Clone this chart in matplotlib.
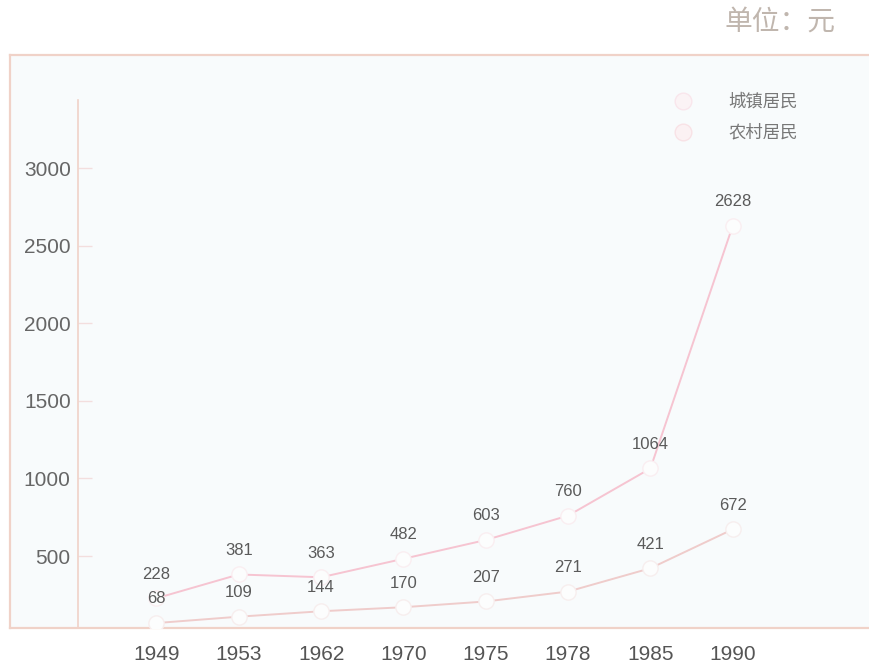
import matplotlib
matplotlib.use("Agg")
import matplotlib.pyplot as plt
from matplotlib.lines import Line2D

plt.rcParams['font.family'] = ['Liberation Sans', 'Noto Sans CJK SC', 'DejaVu Sans']

# data
years = ["1949", "1953", "1962", "1970", "1975", "1978", "1985", "1990"]
urban = [228, 381, 363, 482, 603, 760, 1064, 2628]
rural = [68, 109, 144, 170, 207, 271, 421, 672]
yticks = [500, 1000, 1500, 2000, 2500, 3000]
series_names = ["城镇居民", "农村居民"]

bg = "#f8fbfc"
border = "#f0d2c8"
urban_c = "#f6c4d1"
rural_c = "#efcccb"
txt = "#666666"

W, H = 869, 670
fig = plt.figure(figsize=(W / 100, H / 100), dpi=100)
fig.patch.set_facecolor("#ffffff")

# axes box: left border at x=10px, top at y=55px, bottom at y=628px
ax = fig.add_axes([10 / W, (H - 628) / H, (W - 10) / W + 0.01, (628 - 55) / H])
ax.set_facecolor(bg)

x = list(range(len(years)))
# 81.5 px per category, first category at x=155px
px_per = 81.5
xmin = -(155 - 10) / px_per
xmax = xmin + (W - 10) / px_per
ax.set_xlim(xmin, xmax)

# 0 at y=633.6px, 500 per 77.6px
ppv = 77.6 / 500
ylo = (633.6 - 628) / ppv
yhi = ylo + (628 - 55) / ppv
ax.set_ylim(ylo, yhi)

ax.plot(x, urban, color=urban_c, lw=1.4, marker="o", ms=11,
        mfc="#fcfdfd", mec="#faeef1", mew=1.0, zorder=3)
ax.plot(x, rural, color=rural_c, lw=1.4, marker="o", ms=11,
        mfc="#fcfdfd", mec="#f7eeee", mew=1.0, zorder=3)

for xi, v in zip(x, urban):
    ax.annotate(str(v), (xi, v), xytext=(0, 12), textcoords="offset points",
                ha="center", va="bottom", fontsize=12, color="#5a5a5a")
for xi, v in zip(x, rural):
    ax.annotate(str(v), (xi, v), xytext=(0, 12), textcoords="offset points",
                ha="center", va="bottom", fontsize=12, color="#5a5a5a")

# spines: y axis line at x=77px
yaxis_x = xmin + (77 - 10) / px_per
for s in ["top", "right"]:
    ax.spines[s].set_visible(False)
ax.spines["left"].set_position(("data", yaxis_x))
ax.spines["left"].set_bounds(ylo, (633.6 - 100) / ppv)
ax.spines["left"].set_color(border)
ax.spines["left"].set_linewidth(1.2)
ax.spines["bottom"].set_color(border)
ax.spines["bottom"].set_linewidth(1.6)

# outer box lines (left and top)
ax.plot([0, 0], [0, 1], transform=ax.transAxes, color=border, lw=1.6, clip_on=False)
ax.plot([0, 1], [1, 1], transform=ax.transAxes, color=border, lw=1.6, clip_on=False)

ax.set_yticks(yticks)
ax.set_yticklabels([str(t) for t in yticks])
ax.tick_params(axis="y", direction="in", length=10, width=1, color="#f3dede",
               labelsize=15, labelcolor=txt, pad=5)
ax.set_xticks(x)
ax.set_xticklabels(years)
ax.tick_params(axis="x", length=0, labelsize=15, labelcolor="#555555", pad=12)

# legend
handles = [Line2D([], [], ls="none", marker="o", ms=12, mfc="#fbf3f5", mec="#f9e6ec"),
           Line2D([], [], ls="none", marker="o", ms=12, mfc="#fbf1f3", mec="#f8e2e6")]
leg = ax.legend(handles, series_names, loc="upper left",
                bbox_to_anchor=((644 - 10) / (W - 10), 1 - (77 - 55) / (628 - 55)),
                frameon=False, prop={"family": "Noto Sans CJK SC", "size": 12.5},
                labelcolor="#777777", handletextpad=1.6, labelspacing=0.75)

fig.text(836 / W, 1 - 22 / H, "单位：元", ha="right", va="center",
         fontsize=20, color="#c0b6ae", family="Noto Sans CJK SC")

fig.savefig("out.png", dpi=100, facecolor=fig.get_facecolor())
